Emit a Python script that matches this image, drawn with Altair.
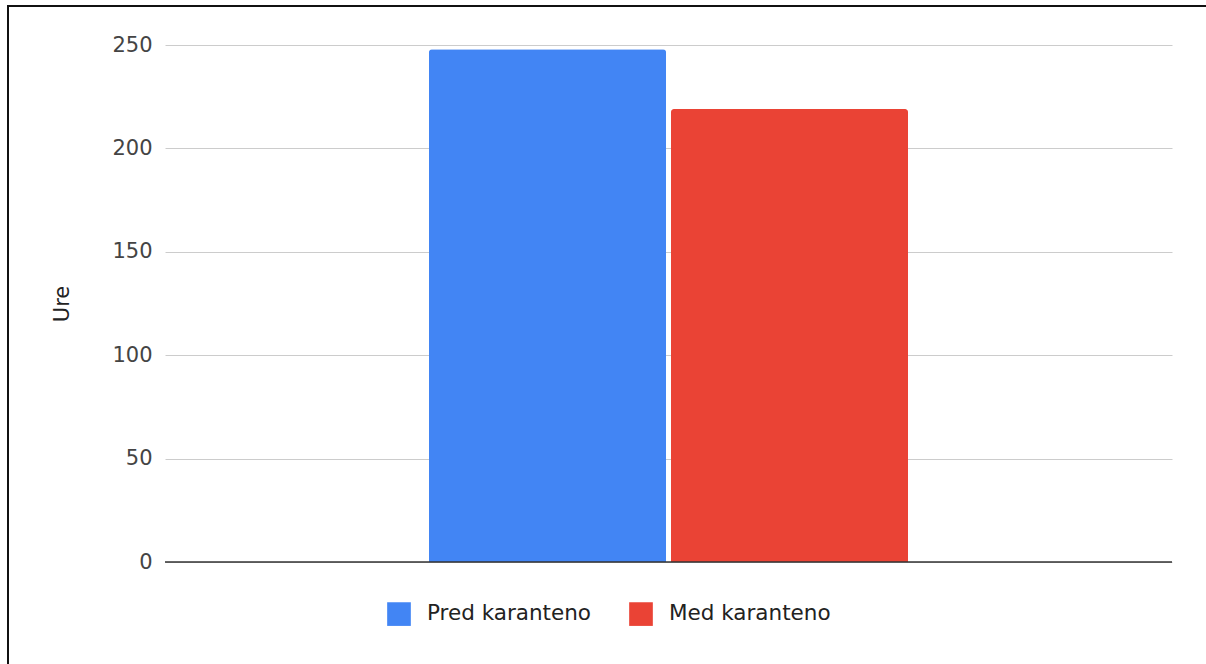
import altair as alt
import pandas as pd

# Hours spent, before and during the quarantine
series = ["Pred karanteno", "Med karanteno"]
hours = [248, 219]
colors = ["#4285F4", "#EA4335"]
y_ticks = [0, 50, 100, 150, 200, 250]

df = pd.DataFrame({"group": ["Ure"] * len(series), "series": series, "Ure": hours})

W, H = 1007, 517
FONT = "DejaVu Sans"

bars = alt.Chart(df).mark_bar(
    cornerRadiusTopLeft=3, cornerRadiusTopRight=3
).encode(
    x=alt.X("group:N", scale=alt.Scale(paddingInner=0, paddingOuter=0.551), axis=None),
    xOffset=alt.XOffset("series:N", sort=series,
                        scale=alt.Scale(paddingInner=0.02, paddingOuter=0)),
    y=alt.Y("Ure:Q",
            scale=alt.Scale(domain=[0, 250], nice=False),
            axis=alt.Axis(
                values=y_ticks, title="Ure", grid=True, domain=False, ticks=False,
                labelFontSize=21, labelColor="#444444", labelPadding=13,
                labelFont=FONT,
                titleFontSize=21, titleFontWeight="normal", titleColor="#222222",
                titleFont=FONT,
                titleAngle=-90, titleX=-103, titleY=H / 2,
                titleAlign="center", titleBaseline="middle",
                gridColor="#cccccc", gridWidth=1,
            )),
    color=alt.Color("series:N", sort=series,
                    scale=alt.Scale(domain=series, range=colors),
                    legend=alt.Legend(
                        title=None, orient="none", direction="horizontal",
                        legendX=222, legendY=557,
                        symbolType="square", symbolSize=560,
                        symbolStrokeWidth=0, symbolOpacity=1,
                        labelFontSize=21.5, labelColor="#222222",
                        labelFont=FONT, labelLimit=400,
                        labelOffset=16, columnPadding=38,
                    )),
)

# dark baseline at zero
frame_src = pd.DataFrame({"v": [0]})
baseline = alt.Chart(frame_src).mark_rule(color="#333333", strokeWidth=1.5).encode(
    y=alt.datum(0)
)

# border lines on the left and top of the figure
left_edge = alt.Chart(frame_src).mark_rule(color="#111111", strokeWidth=2).encode(
    x=alt.value(-157), y=alt.value(-39), y2=alt.value(H + 110)
)
top_edge = alt.Chart(frame_src).mark_rule(color="#111111", strokeWidth=2).encode(
    y=alt.value(-39), x=alt.value(-158), x2=alt.value(W + 40)
)

chart = alt.layer(bars, baseline, left_edge, top_edge).properties(
    width=W, height=H,
    autosize=alt.AutoSizeParams(type="none"),
    padding={"left": 165, "top": 45, "right": 34, "bottom": 102},
    background="white",
).configure_view(stroke=None)

chart.save("out.html", embed_options={"renderer": "svg", "actions": False})
